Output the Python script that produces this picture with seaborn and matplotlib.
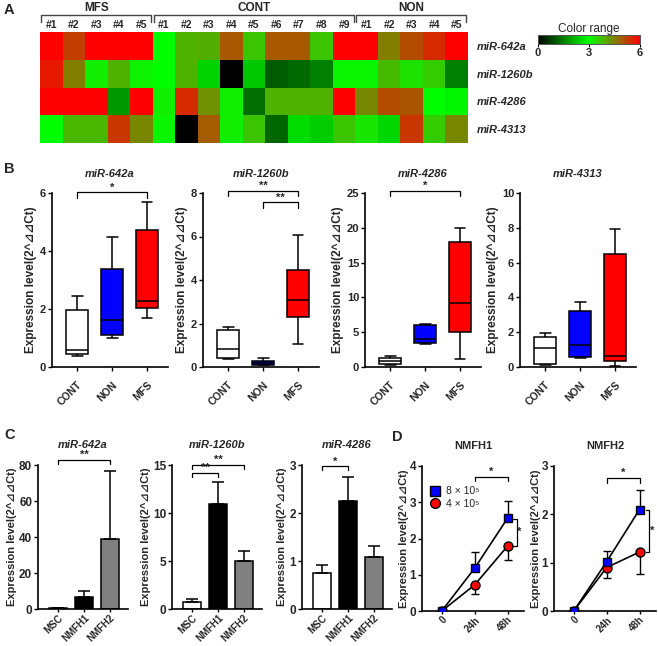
import numpy as np
import pandas as pd
import matplotlib
matplotlib.use("Agg")
import matplotlib.pyplot as plt
from matplotlib.colors import LinearSegmentedColormap
from matplotlib.lines import Line2D
import seaborn as sns

sns.set_theme(style="ticks")
plt.rcParams["font.family"] = ["Liberation Sans", "DejaVu Sans"]
plt.rcParams["axes.linewidth"] = 1.2

# ---------------- data ----------------
heat_rows = ["miR-642a", "miR-1260b", "miR-4286", "miR-4313"]
grp_names = ["MFS", "CONT", "NON"]
grp_sizes = [5, 9, 5]
heat_cols = [f"#{i+1}" for n in grp_sizes for i in range(n)]
heat_642a = [6.0, 5.25, 6.0, 6.0, 6.0, 3.0, 3.9, 3.95, 4.95, 3.7, 4.95, 4.95, 3.7, 6.0, 6.0, 4.5, 5.1, 5.5, 6.0]
heat_1260b = [5.7, 4.5, 3.2, 3.9, 3.15, 3.0, 3.9, 2.5, 0.0, 2.35, 1.1, 1.25, 1.5, 3.1, 3.1, 3.8, 3.35, 3.6, 1.5]
heat_4286 = [6.0, 6.0, 6.0, 1.8, 6.0, 3.2, 5.5, 4.3, 3.2, 1.3, 3.9, 3.9, 3.9, 6.0, 4.4, 5.1, 5.0, 3.0, 2.9]
heat_4313 = [3.0, 3.85, 3.85, 5.35, 4.4, 3.1, 0.0, 4.9, 3.2, 3.7, 1.2, 2.6, 2.4, 3.7, 3.3, 2.55, 5.35, 3.6, 4.4]

box_groups = ["CONT", "NON", "MFS"]
# each list: [min, Q1, median, Q3, max]
b642a_cont = [0.39, 0.44, 0.59, 1.97, 2.45]
b642a_non = [0.99, 1.12, 1.61, 3.37, 4.49]
b642a_mfs = [1.68, 2.02, 2.27, 4.72, 5.70]
b1260b_cont = [0.38, 0.42, 0.84, 1.69, 1.84]
b1260b_non = [0.11, 0.11, 0.19, 0.28, 0.42]
b1260b_mfs = [1.05, 2.30, 3.08, 4.45, 6.05]
b4286_cont = [0.30, 0.39, 0.87, 1.35, 1.55]
b4286_non = [3.30, 3.43, 4.00, 6.00, 6.23]
b4286_mfs = [1.20, 4.98, 9.18, 18.0, 20.0]
b4313_cont = [0.13, 0.19, 1.10, 1.73, 1.98]
b4313_non = [0.52, 0.60, 1.25, 3.19, 3.73]
b4313_mfs = [0.08, 0.35, 0.62, 6.48, 7.93]

cell_cats = ["MSC", "NMFH1", "NMFH2"]
c642a_mean = [0.4, 6.6, 39.0]
c642a_err = [0.3, 3.3, 37.4]
c1260b_mean = [0.74, 10.9, 5.05]
c1260b_err = [0.32, 2.3, 1.0]
c4286_mean = [0.76, 2.26, 1.09]
c4286_err = [0.15, 0.50, 0.23]

time_labels = ["0", "24h", "48h"]
d1_high = [0.0, 1.18, 2.56]
d1_high_err = [0.0, 0.45, 0.48]
d1_low = [0.0, 0.72, 1.79]
d1_low_err = [0.0, 0.25, 0.37]
d2_high = [0.0, 1.02, 2.10]
d2_high_err = [0.0, 0.23, 0.40]
d2_low = [0.0, 0.90, 1.22]
d2_low_err = [0.0, 0.21, 0.46]

# ---------------- figure ----------------
W, H = 658, 646
fig = plt.figure(figsize=(W / 100, H / 100), dpi=100)


def add_ax(l, t, w, h):
    return fig.add_axes([l / W, 1 - (t + h) / H, w / W, h / H])


YLABEL = "Expression level(2^\u22bf\u22bfCt)"


def style_ax(ax, tick_fs=8, xt_fs=7.5, xpad=1.5, xlen=3):
    sns.despine(ax=ax)
    for s in ["left", "bottom"]:
        ax.spines[s].set_color("black")
        ax.spines[s].set_linewidth(1.2)
    ax.tick_params(axis="both", direction="out", length=3, width=1, color="black", pad=1.2)
    ax.tick_params(axis="x", pad=xpad, length=xlen)
    for lab in ax.get_yticklabels():
        lab.set_fontweight("bold")
        lab.set_fontsize(tick_fs)
    for lab in ax.get_xticklabels():
        lab.set_fontweight("bold")
        lab.set_fontsize(xt_fs)
        lab.set_rotation(45)
        lab.set_ha("right")
        lab.set_va("top")
        lab.set_rotation_mode("anchor")


def bracket(ax, x1, x2, y, h, text, fs=8, lw=0.9):
    ax.plot([x1, x1, x2, x2], [y - h, y, y, y - h], color="black", lw=lw, clip_on=False)
    ax.text((x1 + x2) / 2, y, text, ha="center", va="bottom", fontsize=fs,
            fontweight="bold", clip_on=False)


def vbracket(ax, x, dx, y1, y2, text, fs=8, lw=0.9, tx=0.4):
    ax.plot([x - dx, x, x, x - dx], [y1, y1, y2, y2], color="black", lw=lw, clip_on=False)
    ax.text(x + dx * tx, (y1 + y2) / 2, text, ha="left", va="center", fontsize=fs,
            fontweight="bold", clip_on=False)


# ---------------- panel A ----------------
cmap = LinearSegmentedColormap.from_list("gr", [(0, "black"), (0.5, "#00ff00"), (1.0, "red")])
heat = pd.DataFrame([heat_642a, heat_1260b, heat_4286, heat_4313], index=heat_rows)
axA = add_ax(40, 32, 428, 111)
cax = add_ax(538, 35, 102, 9)
sns.heatmap(heat, ax=axA, cmap=cmap, vmin=0, vmax=6, cbar_ax=cax,
            cbar_kws={"orientation": "horizontal", "ticks": [0, 3, 6]})
axA.set_xticks(np.arange(len(heat_cols)) + 0.5)
axA.set_xticklabels(heat_cols, fontsize=7.5, fontweight="bold", rotation=0)
axA.xaxis.tick_top()
axA.tick_params(axis="x", length=0, pad=1.5, top=False, bottom=False, labeltop=True, labelbottom=False)
axA.yaxis.tick_right()
axA.set_yticks(np.arange(len(heat_rows)) + 0.5)
axA.set_yticklabels(heat_rows, fontsize=8, fontweight="bold", style="italic", rotation=0)
axA.tick_params(axis="y", length=0, pad=6, left=False, right=False, labelleft=False, labelright=True)
axA.set_xlabel("")
axA.set_ylabel("")
start = 0
for name, n in zip(grp_names, grp_sizes):
    x1, x2 = start + 0.05, start + n - 0.08
    axA.plot([x1, x1, x2, x2], [-0.36, -0.6, -0.6, -0.36], color="#444444", lw=1.0, clip_on=False)
    axA.text(start + n / 2, -0.66, name, ha="center", va="bottom", fontsize=8.5,
             fontweight="bold", clip_on=False)
    start += n
cax.tick_params(axis="x", length=2.5, width=0.8, pad=0.5, labelsize=8, color="black")
for lab in cax.get_xticklabels():
    lab.set_fontweight("bold")
cax.set_title("Color range", fontsize=8.5, pad=2)
for s in cax.spines.values():
    s.set_visible(True)
    s.set_linewidth(0.6)
    s.set_color("#555555")

# ---------------- panel B ----------------
box_sets = [
    ("miR-642a", [b642a_cont, b642a_non, b642a_mfs], 6, [0, 2, 4, 6]),
    ("miR-1260b", [b1260b_cont, b1260b_non, b1260b_mfs], 8, [0, 2, 4, 6, 8]),
    ("miR-4286", [b4286_cont, b4286_non, b4286_mfs], 25, [0, 5, 10, 15, 20, 25]),
    ("miR-4313", [b4313_cont, b4313_non, b4313_mfs], 10, [0, 2, 4, 6, 8, 10]),
]
box_pal = {"CONT": "white", "NON": "#0000ff", "MFS": "#ff0000"}
b_lefts = [52, 203, 365, 520]
b_axes = []
for (title, vals, ymax, ticks), l in zip(box_sets, b_lefts):
    ax = add_ax(l, 193, 116, 174)
    df = pd.DataFrame({"group": np.repeat(box_groups, 5), "value": np.concatenate(vals)})
    sns.boxplot(data=df, x="group", y="value", hue="group", order=box_groups,
                hue_order=box_groups, palette=box_pal, saturation=1, whis=(0, 100), width=0.62,
                linecolor="black", linewidth=1.1, fliersize=0, legend=False, ax=ax)
    ax.set_xlim(-0.72, 2.6)
    ax.set_ylim(0, ymax)
    ax.set_yticks(ticks)
    ax.set_xlabel("")
    ax.set_ylabel(YLABEL, fontsize=8.5, fontweight="bold", labelpad=2)
    ax.set_title(title, fontsize=8, fontweight="bold", style="italic", pad=11.5)
    style_ax(ax, tick_fs=8, xt_fs=7.5, xpad=6)
    b_axes.append(ax)
bracket(b_axes[0], 0, 2, 6.02, 0.2, "*")
bracket(b_axes[1], 0, 2, 8.1, 0.25, "**")
bracket(b_axes[1], 1, 2, 7.57, 0.25, "**")
bracket(b_axes[2], 0, 2, 25.3, 0.8, "*")

# ---------------- panel C ----------------
bar_sets = [
    ("miR-642a", c642a_mean, c642a_err, 80, [0, 20, 40, 60, 80]),
    ("miR-1260b", c1260b_mean, c1260b_err, 15, [0, 5, 10, 15]),
    ("miR-4286", c4286_mean, c4286_err, 3, [0, 1, 2, 3]),
]
c_lefts = [38, 172, 302]
c_axes = []
for (title, means, errs, ymax, ticks), l in zip(bar_sets, c_lefts):
    ax = add_ax(l, 465, 90, 144)
    sns.barplot(x=cell_cats, y=means, hue=cell_cats, palette=["white", "black", "#808080"],
                saturation=1, edgecolor="black", linewidth=1.1, width=0.68, errorbar=None,
                legend=False, ax=ax)
    ax.errorbar(np.arange(3), means, yerr=[np.zeros(3), errs], fmt="none", ecolor="black",
                elinewidth=1.1, capsize=4.3, capthick=1.1, zorder=1)
    ax.set_xlim(-0.78, 2.7)
    ax.set_ylim(0, ymax)
    ax.set_yticks(ticks)
    ax.set_ylabel(YLABEL, fontsize=8, fontweight="bold", labelpad=1.5)
    ax.set_title(title, fontsize=8, fontweight="bold", style="italic", pad=12)
    style_ax(ax, tick_fs=8.5, xt_fs=7.0, xpad=0.3, xlen=2.5)
    c_axes.append(ax)
bracket(c_axes[0], 0, 2, 83, 2.5, "**")
bracket(c_axes[1], 0, 2, 15.0, 0.4, "**")
bracket(c_axes[1], 0, 1, 14.2, 0.45, "**")
bracket(c_axes[2], 0, 1, 2.97, 0.08, "*")

# ---------------- panel D ----------------
line_sets = [
    ("NMFH1", d1_high, d1_high_err, d1_low, d1_low_err, 4, [0, 1, 2, 3, 4]),
    ("NMFH2", d2_high, d2_high_err, d2_low, d2_low_err, 3, [0, 1, 2, 3]),
]
d_lefts = [422, 554]
d_axes = []
xpos = np.arange(3)
for (title, hi, hie, lo, loe, ymax, ticks), l in zip(line_sets, d_lefts):
    ax = add_ax(l, 466, 102, 145)
    ax.errorbar(xpos, hi, yerr=[np.zeros(3), hie], fmt="none", ecolor="black",
                elinewidth=1.0, capsize=2.8, capthick=1.0, zorder=1)
    ax.errorbar(xpos, lo, yerr=[loe, np.zeros(3)], fmt="none", ecolor="black",
                elinewidth=1.0, capsize=2.8, capthick=1.0, zorder=1)
    sns.lineplot(x=xpos, y=lo, ax=ax, color="black", lw=1.2, marker="o", markersize=6.5,
                 markerfacecolor="#ff0000", markeredgecolor="black", markeredgewidth=1.0, zorder=3)
    sns.lineplot(x=xpos, y=hi, ax=ax, color="black", lw=1.2, marker="s", markersize=6,
                 markerfacecolor="#0000ff", markeredgecolor="black", markeredgewidth=1.0, zorder=4)
    ax.set_xticks(xpos)
    ax.set_xticklabels(time_labels)
    ax.set_xlim(-0.6, 2.5)
    ax.set_ylim(0, ymax)
    ax.set_yticks(ticks)
    ax.set_ylabel(YLABEL, fontsize=8, fontweight="bold", labelpad=0.5)
    ax.set_title(title, fontsize=8, fontweight="bold", pad=12)
    style_ax(ax, tick_fs=8.5, xt_fs=7, xpad=0.3, xlen=2.5)
    d_axes.append(ax)
bracket(d_axes[0], 1, 2, 3.71, 0.13, "*")
vbracket(d_axes[0], 2.28, 0.1, 2.55, 1.8, "*", tx=0.2)
bracket(d_axes[1], 1, 2, 2.75, 0.1, "*")
vbracket(d_axes[1], 2.3, 0.1, 2.1, 1.22, "*", tx=0.2)
handles = [
    Line2D([], [], marker="s", color="none", markerfacecolor="#0000ff", markeredgecolor="black",
           markersize=6.5, markeredgewidth=1.0),
    Line2D([], [], marker="o", color="none", markerfacecolor="#ff0000", markeredgecolor="black",
           markersize=7, markeredgewidth=1.0),
]
d_axes[0].legend(handles, ["8 \u00d7 10\u2075", "4 \u00d7 10\u2075"], loc="upper left",
                 bbox_to_anchor=(0.08, 0.86), frameon=False, fontsize=7.5, handlelength=1.0,
                 handletextpad=0.5, labelspacing=0.25, borderpad=0, borderaxespad=0)

# ---------------- panel letters ----------------
for letter, (x, y) in {"A": (4, 10), "B": (4, 169), "C": (4, 435), "D": (392, 437)}.items():
    fig.text(x / W, 1 - y / H, letter, fontsize=10.5, fontweight="bold", va="center", ha="left")

fig.savefig("out.png", dpi=100)
